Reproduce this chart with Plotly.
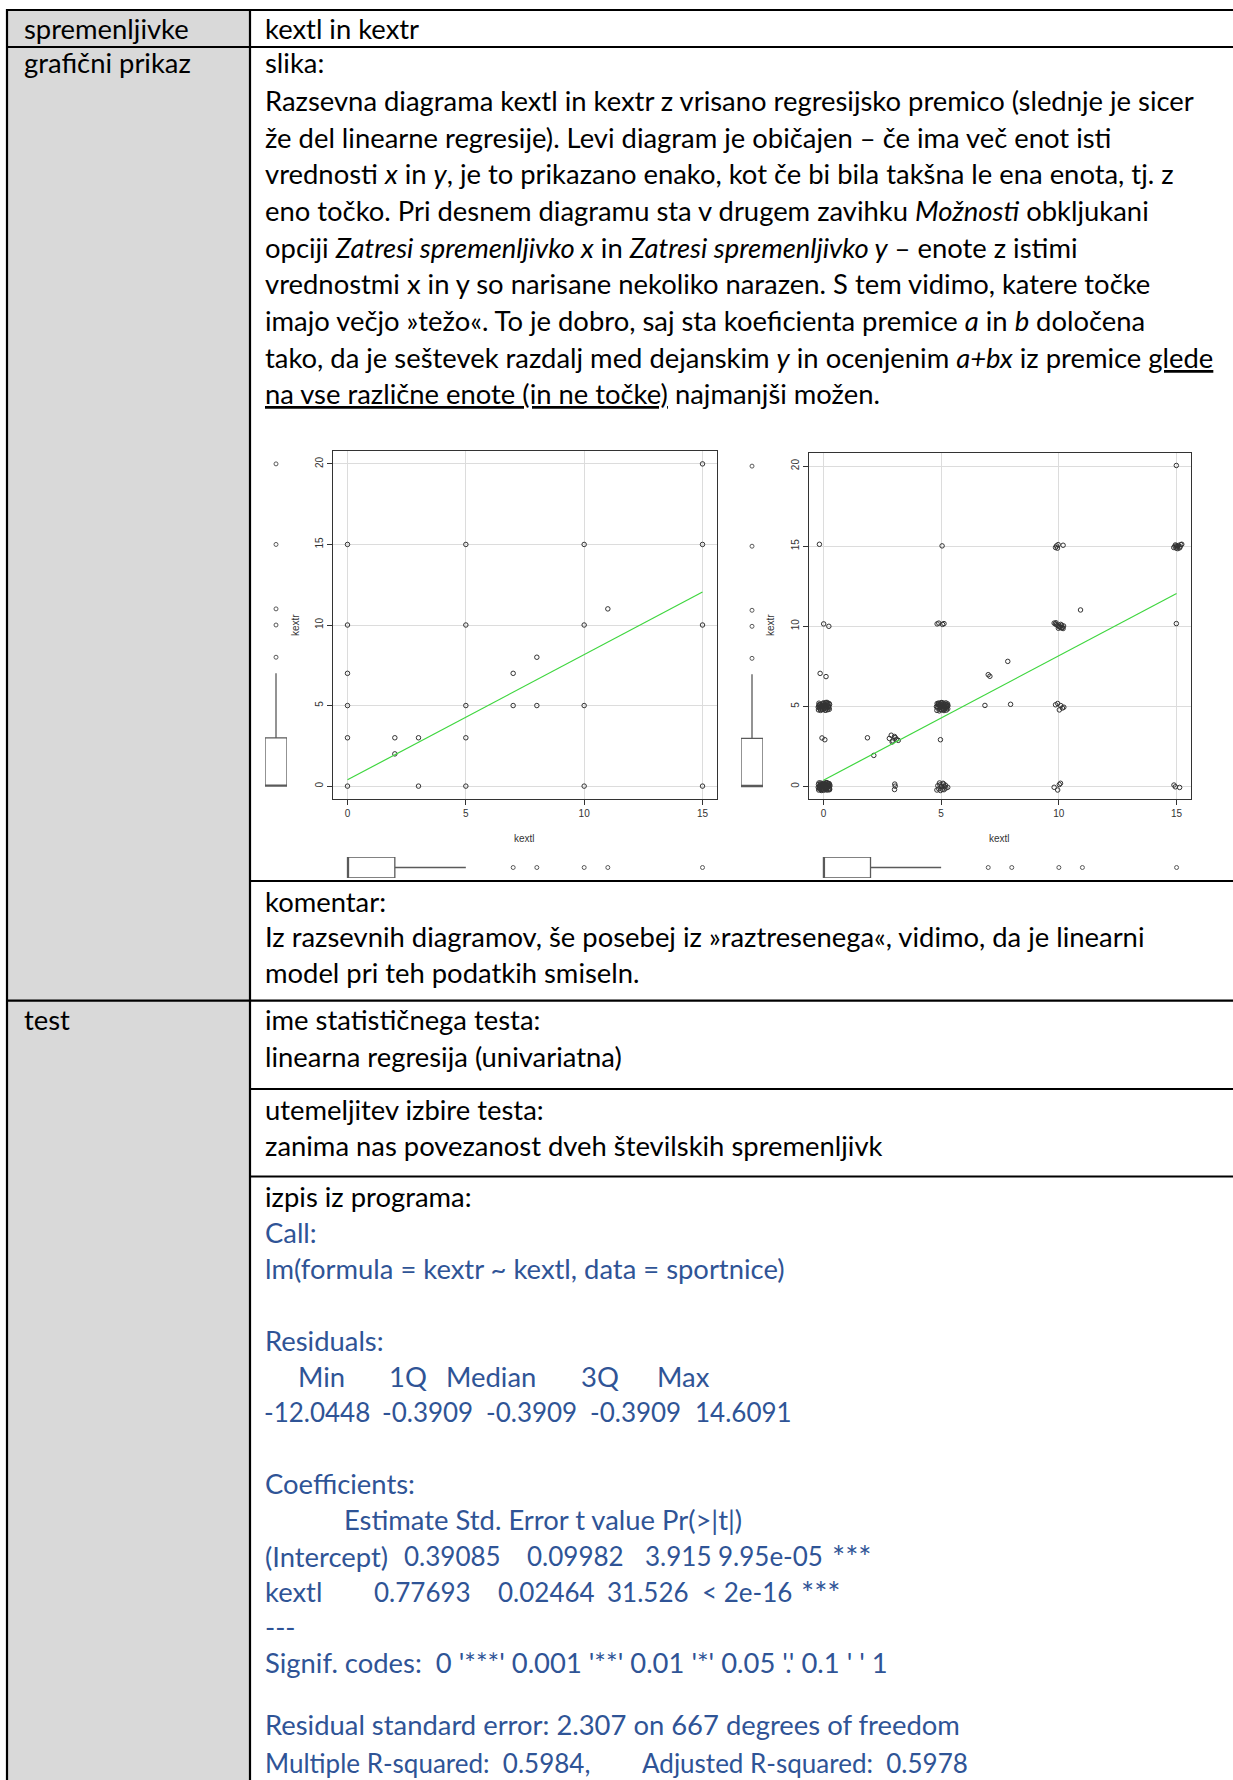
import plotly.graph_objects as go

W, H = 1233, 1780

# ---------------- data ----------------
# left plot: distinct (kextl, kextr) pairs
kextl_pts = [0, 0, 0, 0, 0, 0, 2, 2, 3, 3, 5, 5, 5, 5, 5, 7, 7, 8, 8, 10, 10, 10, 10, 11, 15, 15, 15, 15]
kextr_pts = [0, 3, 5, 7, 10, 15, 2, 3, 0, 3, 0, 3, 5, 10, 15, 5, 7, 5, 8, 0, 5, 10, 15, 11, 0, 10, 15, 20]

# right plot: jittered points
jit_x = [
    # (0,0)
    -0.2, -0.1, 0.0, 0.1, 0.2, 0.25, -0.18, -0.05, 0.05, 0.15, 0.22, -0.15, -0.02, 0.08, 0.18,
    0.27, -0.21, -0.08, 0.03, 0.12, 0.24, -0.12, 0.0, 0.1, 0.2, -0.17, -0.06, 0.06, 0.16, 0.26,
    -0.22, -0.14, -0.04, 0.07, 0.17, 0.27, -0.19, -0.09, 0.02, 0.13, 0.23, -0.16, -0.07, 0.04, 0.14,
    0.26, -0.11, -0.01, 0.09, 0.21,
    # (0,5)
    -0.21, -0.12, -0.02, 0.08, 0.18, 0.25, -0.17, -0.06, 0.04, 0.14, 0.22, -0.2, -0.09, 0.01, 0.11,
    0.2, -0.14, -0.04, 0.06, 0.16, 0.24, -0.19, 0.0, 0.1, 0.19,
    -0.22, -0.15, -0.07, 0.02, 0.12, 0.21, 0.26, -0.18, -0.1, 0.05, 0.15, -0.03, 0.09, 0.23, -0.13,
    # (5,5)
    4.82, 4.92, 5.02, 5.12, 5.22, 5.28, 4.86, 4.96, 5.06, 5.16, 5.26, 4.84, 4.94, 5.04, 5.14,
    5.24, 4.88, 4.98, 5.08, 5.18, 5.27, 4.9, 5.0, 5.1, 5.2,
    4.8, 4.87, 4.95, 5.03, 5.11, 5.19, 5.29, 4.83, 4.91, 5.07, 5.15, 5.23, 4.99, 5.13, 5.25,
    # (5,0)
    4.82, 4.9, 4.97, 5.05, 5.12, 5.2, 5.28, 4.86, 4.95, 5.02, 5.1, 5.18, 4.93, 5.08, 5.15,
    # (10,10)
    9.8, 9.85, 9.9, 9.95, 10.0, 10.05, 10.1, 10.15, 10.2, 9.88, 9.98, 10.08, 10.18, 10.12, 10.03,
    # (15,15)
    14.88, 14.93, 14.98, 15.03, 15.08, 15.13, 15.18, 15.22, 14.95, 15.05, 15.15, 15.0,
    # (10,15)
    9.86, 9.9, 9.94, 9.97, 10.18,
    # (10,5)
    9.86, 9.95, 10.02, 10.08, 10.15, 10.21,
    # (10,0)
    9.8, 9.95, 10.02, 10.07,
    # (15,0)
    14.89, 14.95, 15.13,
    # (3,3)
    2.8, 2.88, 2.95, 3.02, 3.1, 3.18, 2.92, 3.05,
    # (3,0)
    3.03, 3.05, 3.02,
    # singles
    -0.17, 5.04, 14.99, 10.92, 14.99, 0.01, 0.23, 4.83, 4.9, 5.06, 5.12, -0.14, 0.11,
    -0.06, 0.06, 1.87, 2.14, 4.97, 6.86, 7.0, 7.07, 7.83, 7.95,
]
jit_y = [
    # (0,0)
    -0.22, -0.2, -0.24, -0.18, -0.21, -0.1, -0.08, -0.12, -0.05, -0.09, 0.0, 0.02, 0.05, -0.02, 0.04,
    0.1, 0.12, 0.08, 0.15, 0.11, 0.18, 0.22, 0.2, 0.24, 0.19, -0.15, 0.16, -0.14, 0.21, -0.2,
    -0.05, 0.06, -0.16, 0.14, -0.07, 0.02, 0.22, -0.25, 0.1, -0.22, 0.17, -0.02, -0.18, -0.1, 0.24,
    -0.15, 0.09, 0.0, -0.12, 0.07,
    # (0,5)
    4.78, 4.75, 4.8, 4.76, 4.79, 4.82, 4.9, 4.95, 4.88, 4.92, 4.97, 5.02, 5.05, 5.0, 5.07,
    5.03, 5.12, 5.15, 5.1, 5.14, 5.18, 5.2, 5.22, 5.24, 5.19,
    4.95, 5.08, 4.84, 5.17, 4.86, 5.0, 5.12, 5.1, 4.99, 4.96, 5.25, 5.05, 4.77, 4.91, 4.82,
    # (5,5)
    4.75, 4.72, 4.78, 4.74, 4.77, 4.85, 4.9, 4.93, 4.88, 4.95, 4.98, 5.01, 5.04, 4.99, 5.06,
    5.03, 5.11, 5.14, 5.09, 5.13, 5.16, 5.21, 5.23, 5.2, 5.22,
    4.98, 5.15, 4.82, 5.24, 4.8, 4.92, 5.05, 5.18, 5.07, 4.83, 5.0, 4.9, 5.12, 4.96, 5.1,
    # (5,0)
    -0.22, -0.15, -0.25, -0.18, -0.2, -0.1, -0.05, 0.05, 0.1, 0.02, 0.15, 0.08, 0.22, 0.2, -0.02,
    # (10,10)
    10.2, 10.15, 10.1, 10.05, 10.0, 9.95, 9.9, 9.92, 10.02, 10.22, 9.88, 10.12, 9.86, 10.06, 9.97,
    # (15,15)
    14.92, 15.0, 14.88, 14.95, 15.05, 14.9, 15.1, 15.12, 15.08, 14.85, 14.97, 15.02,
    # (10,15)
    14.92, 15.02, 14.88, 15.1, 15.06,
    # (10,5)
    5.1, 5.18, 4.78, 5.05, 4.9, 4.95,
    # (10,0)
    -0.05, -0.22, 0.12, 0.2,
    # (15,0)
    0.09, -0.02, -0.06,
    # (3,3)
    3.0, 3.2, 2.85, 3.12, 2.95, 2.88, 2.78, 3.05,
    # (3,0)
    0.15, 0.02, -0.19,
    # singles
    15.12, 15.02, 20.04, 11.02, 10.17, 10.15, 10.0, 10.15, 10.2, 10.12, 10.17, 7.06, 6.86,
    3.03, 2.92, 3.04, 1.94, 2.92, 5.06, 6.98, 6.88, 7.81, 5.13,
]

# regression coefficients
intercept, slope = 0.39085, 0.77693
line_x = [0, 15]

# marginal boxplot statistics
kextr_box = dict(q1=0, median=0, q3=3, lo=0, hi=7)
kextr_out = [8, 10, 11, 15, 20]
kextl_box = dict(q1=0, median=0, q3=2, lo=0, hi=5)
kextl_out = [7, 8, 10, 11, 15]

x_ticks = [0, 5, 10, 15]
y_ticks = [0, 5, 10, 15, 20]

res_names = ["Min", "1Q", "Median", "3Q", "Max"]
res_vals = ["-12.0448", "-0.3909", "-0.3909", "-0.3909", "14.6091"]
coef_int = ["(Intercept)", "0.39085", "0.09982", "3.915", "9.95e-05", "***"]
coef_kextl = ["kextl", "0.77693", "0.02464", "31.526", "< 2e-16", "***"]

# ---------------- helpers ----------------
def dx(a, b):
    return [a / W, b / W]

def dy(top, bottom):
    return [1 - bottom / H, 1 - top / H]

def PX(x):
    return x / W

def PY(y):
    return 1 - y / H

fig = go.Figure()

GRID = "#dcdcdc"
AX = "#333333"
PT = "#333333"
GREEN = "#3fd63f"
BOXC = "#5a5a5a"
TICKFONT = dict(family="Liberation Sans, Arial", size=10, color="#333333")

def main_axes(xa, ya, xdom, ydom):
    common = dict(showgrid=True, gridcolor=GRID, gridwidth=1, zeroline=False,
                  showline=True, mirror=True, linecolor=AX, linewidth=1,
                  ticks="outside", ticklen=5, tickcolor=AX, tickwidth=1,
                  tickfont=TICKFONT)
    fig.layout[xa] = dict(domain=xdom, anchor=ya.replace("axis", ""), range=[-0.6, 15.6],
                          tickmode="array", tickvals=x_ticks, **common)
    fig.layout[ya] = dict(domain=ydom, anchor=xa.replace("axis", ""), range=[-0.8, 20.8],
                          tickmode="array", tickvals=y_ticks, tickangle=-90, **common)

main_axes("xaxis", "yaxis", dx(333.3, 716.7), dy(451, 799))
main_axes("xaxis2", "yaxis2", dx(809.3, 1190.7), dy(453.3, 799.3))

hidden = dict(visible=False, showgrid=False, zeroline=False, fixedrange=True)
fig.layout["xaxis3"] = dict(domain=dx(265, 287), range=[-0.5, 0.5], anchor="y3", **hidden)
fig.layout["yaxis3"] = dict(domain=dy(451, 799), range=[-0.8, 20.8], anchor="x3", **hidden)
fig.layout["xaxis4"] = dict(domain=dx(333.3, 716.7), range=[-0.6, 15.6], anchor="y4", **hidden)
fig.layout["yaxis4"] = dict(domain=dy(857, 878), range=[-0.5, 0.5], anchor="x4", **hidden)
fig.layout["xaxis5"] = dict(domain=dx(741, 763), range=[-0.5, 0.5], anchor="y5", **hidden)
fig.layout["yaxis5"] = dict(domain=dy(453.3, 799.3), range=[-0.8, 20.8], anchor="x5", **hidden)
fig.layout["xaxis6"] = dict(domain=dx(809.3, 1190.7), range=[-0.6, 15.6], anchor="y6", **hidden)
fig.layout["yaxis6"] = dict(domain=dy(857, 878), range=[-0.5, 0.5], anchor="x6", **hidden)

mk = dict(symbol="circle-open", size=4.5, color=PT, line=dict(width=1, color=PT))

fig.add_trace(go.Scatter(x=kextl_pts, y=kextr_pts, mode="markers", marker=mk,
                         xaxis="x", yaxis="y", showlegend=False))
fig.add_trace(go.Scatter(x=line_x, y=[intercept + slope * v for v in line_x], mode="lines",
                         line=dict(color=GREEN, width=1.2), xaxis="x", yaxis="y", showlegend=False))
fig.add_trace(go.Scatter(x=jit_x, y=jit_y, mode="markers", marker=mk,
                         xaxis="x2", yaxis="y2", showlegend=False))
fig.add_trace(go.Scatter(x=line_x, y=[intercept + slope * v for v in line_x], mode="lines",
                         line=dict(color=GREEN, width=1.2), xaxis="x2", yaxis="y2", showlegend=False))

omk = dict(symbol="circle-open", size=4, color=BOXC, line=dict(width=1, color=BOXC))

def vbox(xa, ya):
    fig.add_trace(go.Box(x=[0], q1=[kextr_box["q1"]], median=[kextr_box["median"]], q3=[kextr_box["q3"]],
                         lowerfence=[kextr_box["lo"]], upperfence=[kextr_box["hi"]], width=1,
                         whiskerwidth=0, boxpoints=False, fillcolor="rgba(255,255,255,0)",
                         line=dict(color=BOXC, width=1.3), xaxis=xa, yaxis=ya, showlegend=False))
    fig.add_trace(go.Scatter(x=[0] * len(kextr_out), y=kextr_out, mode="markers", marker=omk,
                             xaxis=xa, yaxis=ya, showlegend=False))

def hbox(xa, ya):
    fig.add_trace(go.Box(y=[0], q1=[kextl_box["q1"]], median=[kextl_box["median"]], q3=[kextl_box["q3"]],
                         lowerfence=[kextl_box["lo"]], upperfence=[kextl_box["hi"]], width=1,
                         orientation="h", whiskerwidth=0, boxpoints=False,
                         fillcolor="rgba(255,255,255,0)",
                         line=dict(color=BOXC, width=1.3), xaxis=xa, yaxis=ya, showlegend=False))
    fig.add_trace(go.Scatter(x=kextl_out, y=[0] * len(kextl_out), mode="markers", marker=omk,
                             xaxis=xa, yaxis=ya, showlegend=False))

vbox("x3", "y3")
hbox("x4", "y4")
vbox("x5", "y5")
hbox("x6", "y6")

# ---------------- table ----------------
shapes = []
shapes.append(dict(type="rect", xref="paper", yref="paper", x0=PX(7), x1=PX(250), y0=PY(10), y1=PY(1781),
                   fillcolor="#d9d9d9", line=dict(width=0), layer="below"))

def hline(y, x0, x1=1240):
    shapes.append(dict(type="line", xref="paper", yref="paper", x0=PX(x0), x1=PX(x1), y0=PY(y), y1=PY(y),
                       line=dict(color="black", width=2.2)))

def vline(x, y0, y1):
    shapes.append(dict(type="line", xref="paper", yref="paper", x0=PX(x), x1=PX(x), y0=PY(y0), y1=PY(y1),
                       line=dict(color="black", width=2.2)))

hline(10, 6)
hline(47, 6)
hline(881, 250)
hline(1000.7, 6)
hline(1089, 250)
hline(1176.5, 250)
vline(7, 9, 1785)
vline(250, 9, 1785)

ann = []
BODY = "Lato"
FS = 27.4
NUMFS = 26
BLACK = "#000000"
BLUE = "#2F5496"

def T(text, x, y, color=BLACK, size=FS, anchor="left", **kw):
    xx = x - 2 if anchor == "left" else x
    ann.append(dict(text=text, x=PX(xx), y=PY(y), xref="paper", yref="paper", xanchor=anchor,
                    yanchor="middle", showarrow=False, font=dict(family=BODY, size=size, color=color), **kw))

T("spremenljivke", 24, 29)
T("grafični prikaz", 24, 63)
T("test", 24, 1020)

T("kextl in kextr", 265, 29)
T("slika:", 265, 63)

U = lambda s: "<span style='text-decoration:underline'>" + s + "</span>"
para = [
    "Razsevna diagrama kextl in kextr z vrisano regresijsko premico (slednje je sicer",
    "že del linearne regresije). Levi diagram je običajen – če ima več enot isti",
    "vrednosti <i>x</i> in <i>y</i>, je to prikazano enako, kot če bi bila takšna le ena enota, tj. z",
    "eno točko. Pri desnem diagramu sta v drugem zavihku <i>Možnosti</i> obkljukani",
    "opciji <i>Zatresi spremenljivko x</i> in <i>Zatresi spremenljivko y</i> – enote z istimi",
    "vrednostmi x in y so narisane nekoliko narazen. S tem vidimo, katere točke",
    "imajo večjo »težo«. To je dobro, saj sta koeficienta premice <i>a</i> in <i>b</i> določena",
    "tako, da je seštevek razdalj med dejanskim <i>y</i> in ocenjenim <i>a+bx</i> iz premice " + U("glede"),
    U("na vse različne enote (in ne točke)") + " najmanjši možen.",
]
for i, line in enumerate(para):
    T(line, 265, 100.5 + 36.67 * i)

T("komentar:", 265, 901)
T("Iz razsevnih diagramov, še posebej iz »raztresenega«, vidimo, da je linearni", 265, 936)
T("model pri teh podatkih smiseln.", 265, 972)
T("ime statističnega testa:", 265, 1020)
T("linearna regresija (univariatna)", 265, 1056.7)
T("utemeljitev izbire testa:", 265, 1109.3)
T("zanima nas povezanost dveh številskih spremenljivk", 265, 1145)
T("izpis iz programa:", 265, 1196.7)

T("Call:", 265, 1232.7, BLUE)
T("lm(formula = kextr ~ kextl, data = sportnice)", 265, 1268.3, BLUE)
T("Residuals:", 265, 1340, BLUE)
for name, x in zip(res_names, [321.2, 408, 491.3, 600.3, 683.5]):
    T(name, x, 1376.7, BLUE, anchor="center")
for v, x in zip(res_vals, [316.8, 427.8, 531.3, 635.6, 743]):
    T(v, x, 1411.7, BLUE, size=NUMFS, anchor="center")
T("Coefficients:", 265, 1483.3, BLUE)
T("Estimate Std. Error t value Pr(>|t|)", 344.3, 1519.3, BLUE)
T(coef_int[0], 265, 1556, BLUE)
for v, x in zip(coef_int[1:], [452, 575.5, 678.1, 770.4, 851.8]):
    T(v, x, 1556, BLUE, size=(31 if v == "***" else NUMFS), anchor="center")
T(coef_kextl[0], 265, 1591.7, BLUE)
for v, x in zip(coef_kextl[1:], [422, 546.2, 647.9, 746.5, 820.5]):
    T(v, x, 1591.7, BLUE, size=(31 if v == "***" else NUMFS), anchor="center")
T("---", 265, 1626.7, BLUE)
T("Signif. codes:\u00a0 0 '***' 0.001 '**' 0.01 '*' 0.05 '.' 0.1 '\u00a0' 1", 265, 1662.7, BLUE)
T("Residual standard error: 2.307 on 667 degrees of freedom", 265, 1724, BLUE)
T("Multiple R-squared:\u00a0 0.5984,", 265, 1763, BLUE, size=26)
T("Adjusted R-squared:\u00a0 0.5978", 642, 1763, BLUE, size=26)

AXT = dict(family="Liberation Sans, Arial", size=10, color="#333333")
for x in [295, 770]:
    ann.append(dict(text="kextr", x=PX(x), y=PY(625), xref="paper", yref="paper", showarrow=False,
                    textangle=-90, font=AXT, xanchor="center", yanchor="middle"))
for x in [524, 999]:
    ann.append(dict(text="kextl", x=PX(x), y=PY(838), xref="paper", yref="paper", showarrow=False,
                    font=AXT, xanchor="center", yanchor="middle"))

fig.update_layout(width=W, height=H, margin=dict(l=0, r=0, t=0, b=0, pad=0),
                  paper_bgcolor="white", plot_bgcolor="white", shapes=shapes, annotations=ann,
                  showlegend=False)

fig.write_html("out.html", config={"displayModeBar": False},
               post_script="document.body.style.margin='0';document.body.style.padding='0';"
                           "document.body.style.overflow='hidden';")
